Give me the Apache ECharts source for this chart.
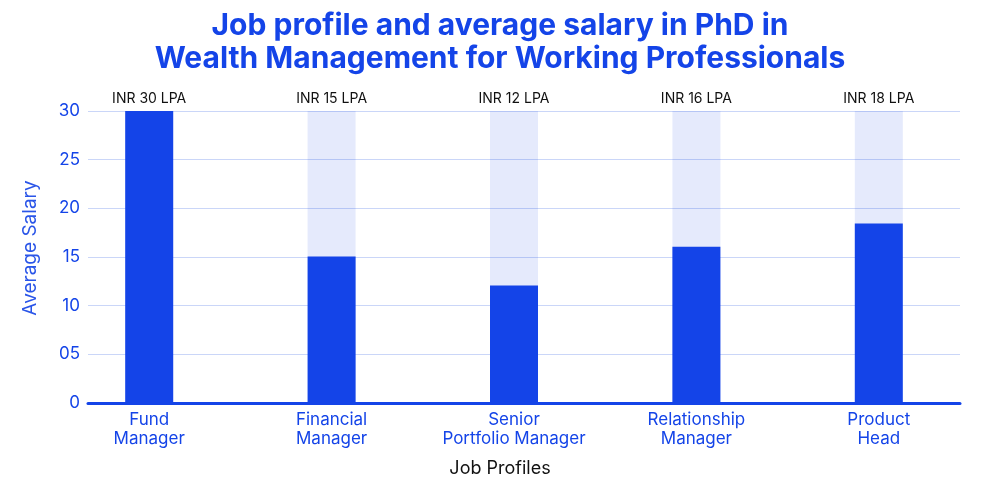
<!DOCTYPE html>
<html>
<head>
<meta charset="utf-8">
<script src="https://cdn.jsdelivr.net/npm/echarts@6/dist/echarts.min.js"></script>
<style>html,body{margin:0;padding:0;background:#fff}#c{width:1000px;height:483px}</style>
</head>
<body>
<div id="c"></div>
<script>
var categories = ['Fund\nManager', 'Financial\nManager', 'Senior\nPortfolio Manager', 'Relationship\nManager', 'Product\nHead'];
var salaries = [30, 15, 12, 16, 18.4];
var salaryLabels = ['INR 30 LPA', 'INR 15 LPA', 'INR 12 LPA', 'INR 16 LPA', 'INR 18 LPA'];
var scaleMax = [30, 30, 30, 30, 30];
var yTickLabels = {0: '0', 5: '05', 10: '10', 15: '15', 20: '20', 25: '25', 30: '30'};

var BLUE = '#1444E8';
var FONT = 'Inter, "Open Sans", sans-serif';
var chart = echarts.init(document.getElementById('c'), null, {renderer: 'canvas'});
chart.setOption({
  animation: false,
  textStyle: {fontFamily: FONT},
  title: {
    text: 'Job profile and average salary in PhD in\nWealth Management for Working Professionals',
    left: 'center', top: 4,
    textStyle: {color: BLUE, fontSize: 30, fontWeight: 'bold', lineHeight: 33, fontFamily: FONT}
  },
  grid: [
    {left: 58, right: 30, top: 111, bottom: 80},
    {left: 88, right: 40, top: 111, bottom: 80}
  ],
  xAxis: [
    {
      type: 'category', gridIndex: 0, data: categories,
      axisLine: {show: false}, axisTick: {show: false},
      axisLabel: {color: BLUE, fontSize: 17, lineHeight: 19, margin: 8, interval: 0, hideOverlap: false, fontFamily: FONT},
      name: 'Job Profiles', nameLocation: 'middle', nameGap: 58,
      nameTextStyle: {color: '#111', fontSize: 18, fontFamily: FONT, padding: [0, 28, 0, 0]}
    },
    {
      type: 'value', gridIndex: 1, min: 0, max: 1, z: 10,
      axisLine: {show: true, lineStyle: {color: BLUE, width: 3}},
      axisTick: {show: false}, axisLabel: {show: false}, splitLine: {show: false}
    }
  ],
  yAxis: [
    {type: 'value', gridIndex: 0, min: 0, max: 30, show: false},
    {
      type: 'value', gridIndex: 1, min: 0, max: 30, interval: 5,
      axisLine: {show: false}, axisTick: {show: false},
      axisLabel: {color: BLUE, fontSize: 17, margin: 8, fontFamily: FONT,
        formatter: function (v) { return yTickLabels[v] !== undefined ? yTickLabels[v] : v; }},
      splitLine: {show: true, lineStyle: {color: '#CAD6F8', width: 1}},
      name: 'Average Salary', nameLocation: 'middle', nameGap: 48,
      nameTextStyle: {color: '#2a55e8', fontSize: 19, fontFamily: FONT, padding: [0, 0, 0, 18]}
    }
  ],
  series: [
    {
      type: 'bar', xAxisIndex: 0, yAxisIndex: 0, data: scaleMax, barWidth: 48,
      itemStyle: {color: 'rgba(20,68,232,0.11)'},
      label: {show: true, position: 'top', distance: 5, color: '#111', fontSize: 14, fontFamily: FONT,
        formatter: function (p) { return salaryLabels[p.dataIndex]; }},
      z: 1
    },
    {
      type: 'bar', xAxisIndex: 0, yAxisIndex: 0, data: salaries, barWidth: 48, barGap: '-100%',
      itemStyle: {color: BLUE}, z: 2
    }
  ]
});
</script>
</body>
</html>
